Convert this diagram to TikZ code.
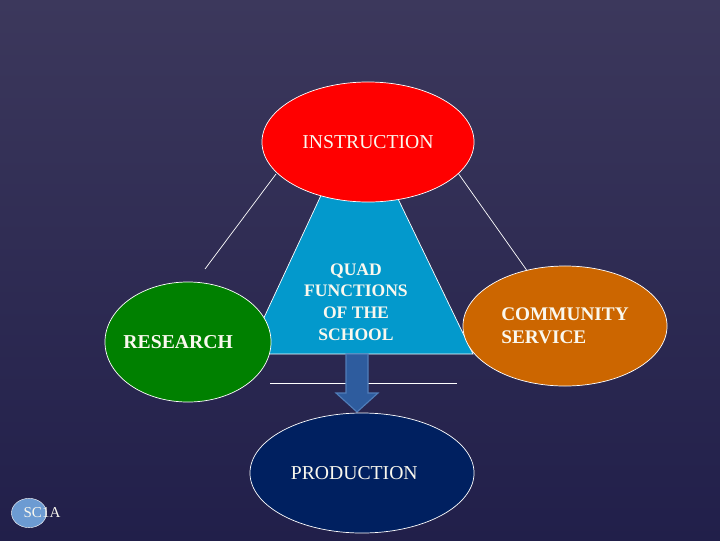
\documentclass[tikz,border=0pt]{standalone}
\usepackage{fontspec}
\setmainfont{Liberation Serif}
\usetikzlibrary{shapes.geometric}
\definecolor{bgtop}{RGB}{60,56,92}
\definecolor{bgbot}{RGB}{33,31,74}
\definecolor{instr}{RGB}{255,0,0}
\definecolor{resgreen}{RGB}{0,128,0}
\definecolor{commorange}{RGB}{204,102,0}
\definecolor{prodnavy}{RGB}{0,32,96}
\definecolor{quadblue}{RGB}{3,153,204}
\definecolor{arrowblue}{RGB}{46,92,158}
\definecolor{arrowedge}{RGB}{80,125,185}
\definecolor{scblue}{RGB}{108,155,210}
\definecolor{txt}{RGB}{250,248,238}
\begin{document}
\begin{tikzpicture}[x=0.025cm, y=-0.025cm,
    func/.style = {ellipse, draw=white, line width=0.5pt, inner sep=0pt,
                   minimum height=3cm, text=txt, font=\fontsize{14}{16}\selectfont},
    link/.style = {draw=white, line width=0.5pt}]
    \useasboundingbox (0,0) rectangle (720,540);
    \shade[top color=bgtop, bottom color=bgbot] (0,0) rectangle (720,540);
    \coordinate (linstr) at (276,174);
    \coordinate (lres) at (205,269);
    \coordinate (rinstr) at (458,173);
    \coordinate (rcomm) at (528,272);
    \coordinate (baseL) at (270,383);
    \coordinate (baseR) at (457,383);
    \draw[link] (linstr) -- (lres);
    \draw[link] (rinstr) -- (rcomm);
    \draw[link] (baseL) -- (baseR);
    \filldraw[fill=quadblue, draw=white, line width=0.5pt] (358,116) -- (473,354) -- (247,354) -- cycle;
    \node (quad) at (356,302) [align=center, text=txt, font=\bfseries\fontsize{12.5}{15.4}\selectfont]
        {QUAD\\FUNCTIONS\\OF THE\\SCHOOL};
    \filldraw[fill=arrowblue, draw=arrowedge, line width=0.8pt]
        (346,354) -- (368,354) -- (368,393) -- (378,393) -- (357,412) -- (336,393) -- (346,393) -- cycle;
    \node (instruction) at (368,142) [func, fill=instr, minimum width=5.3cm] {INSTRUCTION};
    \node (research) at (188,342) [func, fill=resgreen, minimum width=4.15cm, inner xsep=-20pt,
        font=\bfseries\fontsize{14}{16}\selectfont] {RESEARCH\kern14pt};
    \node (community) at (565,326) [func, fill=commorange, minimum width=5.1cm, align=left,
        font=\bfseries\fontsize{13.7}{16.3}\selectfont] {COMMUNITY\\SERVICE};
    \node (production) at (362,473) [func, fill=prodnavy, minimum width=5.6cm] {PRODUCTION\kern11pt};
    \node (sc) at (29,513) [ellipse, fill=scblue, draw=white, line width=0.3pt, inner sep=0pt,
        minimum width=0.875cm, minimum height=0.73cm] {};
    \node (sclabel) at (42,513) [text=txt, font=\fontsize{10.7}{12}\selectfont] {SC1A};
\end{tikzpicture}
\end{document}
